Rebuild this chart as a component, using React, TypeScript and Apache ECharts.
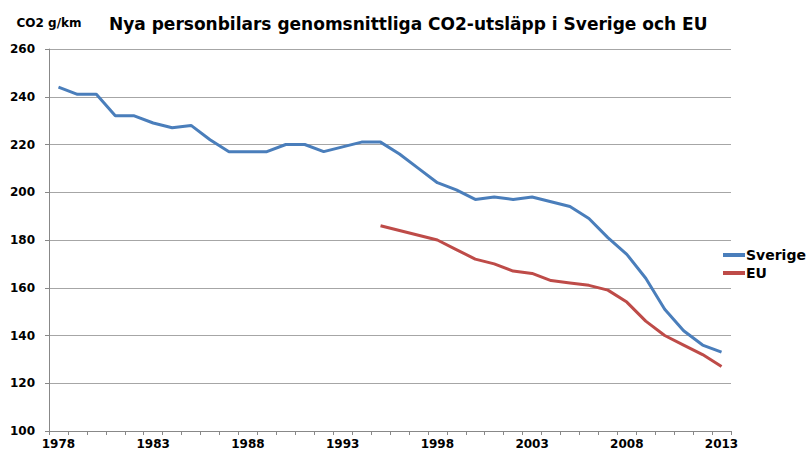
import React, { useEffect, useRef } from "react";
import * as echarts from "echarts";

const years: string[] = [];
for (let y = 1978; y <= 2013; y++) years.push(String(y));

const sverige = [
  244, 241, 241, 232, 232, 229, 227, 228, 222, 217, 217, 217, 220, 220, 217, 219, 221, 221,
  216, 210, 204, 201, 197, 198, 197, 198, 196, 194, 189, 181, 174, 164, 151, 142, 136, 133,
];
const eu = [
  null, null, null, null, null, null, null, null, null, null, null, null, null, null, null, null, null,
  186, 184, 182, 180, 176, 172, 170, 167, 166, 163, 162, 161, 159, 154, 146, 140, 136, 132, 127,
];

const FONT = "'DejaVu Sans', sans-serif";

export default function App() {
  const ref = useRef<HTMLDivElement>(null);
  useEffect(() => {
    if (!ref.current) return;
    const chart = echarts.init(ref.current, null, { renderer: "svg" });
    chart.setOption({
      animation: false,
      textStyle: { fontFamily: FONT },
      title: {
        text: "Nya personbilars genomsnittliga CO2-utsläpp i Sverige och EU",
        left: 104,
        top: 10,
        textStyle: { fontFamily: FONT, fontSize: 17, fontWeight: "bold", color: "#000" },
      },
      legend: {
        orient: "vertical",
        left: 718,
        top: 243,
        itemWidth: 22,
        itemHeight: 4,
        itemGap: 4,
        icon: "rect",
        textStyle: { fontFamily: FONT, fontSize: 14, fontWeight: "bold", color: "#000", padding: [0, 0, 0, -4] },
        data: ["Sverige", "EU"],
      },
      grid: { left: 49, right: 76, top: 49, bottom: 20, containLabel: false },
      xAxis: {
        type: "category",
        data: years,
        boundaryGap: true,
        axisLine: { lineStyle: { color: "#888", width: 1 } },
        axisTick: { show: true, interval: 0, length: 4, lineStyle: { color: "#888" } },
        axisLabel: {
          interval: 4,
          color: "#000",
          fontWeight: "bold",
          fontSize: 12,
          fontFamily: FONT,
          margin: 7,
        },
        splitLine: { show: false },
      },
      yAxis: {
        type: "value",
        min: 100,
        max: 260,
        interval: 20,
        name: "CO2 g/km",
        nameLocation: "end",
        nameGap: 20,
        nameTextStyle: { fontFamily: FONT, fontSize: 12, fontWeight: "bold", color: "#000", align: "center" },
        axisLine: { show: true, lineStyle: { color: "#888", width: 1 } },
        axisTick: { show: true, length: 4, lineStyle: { color: "#888" } },
        axisLabel: { color: "#000", fontWeight: "bold", fontSize: 12, fontFamily: FONT, margin: 14 },
        splitLine: { show: true, lineStyle: { color: "#a6a6a6", width: 1 } },
      },
      series: [
        {
          name: "Sverige",
          type: "line",
          data: sverige,
          showSymbol: false,
          symbol: "none",
          lineStyle: { color: "#4a7ebb", width: 3 },
          itemStyle: { color: "#4a7ebb" },
        },
        {
          name: "EU",
          type: "line",
          data: eu,
          showSymbol: false,
          symbol: "none",
          connectNulls: false,
          lineStyle: { color: "#be4b48", width: 3 },
          itemStyle: { color: "#be4b48" },
        },
      ],
    });
    return () => chart.dispose();
  }, []);
  return (
    <div
      ref={ref}
      style={{ width: 807, height: 451, position: "absolute", left: 0, top: 0, background: "#fff" }}
    />
  );
}
